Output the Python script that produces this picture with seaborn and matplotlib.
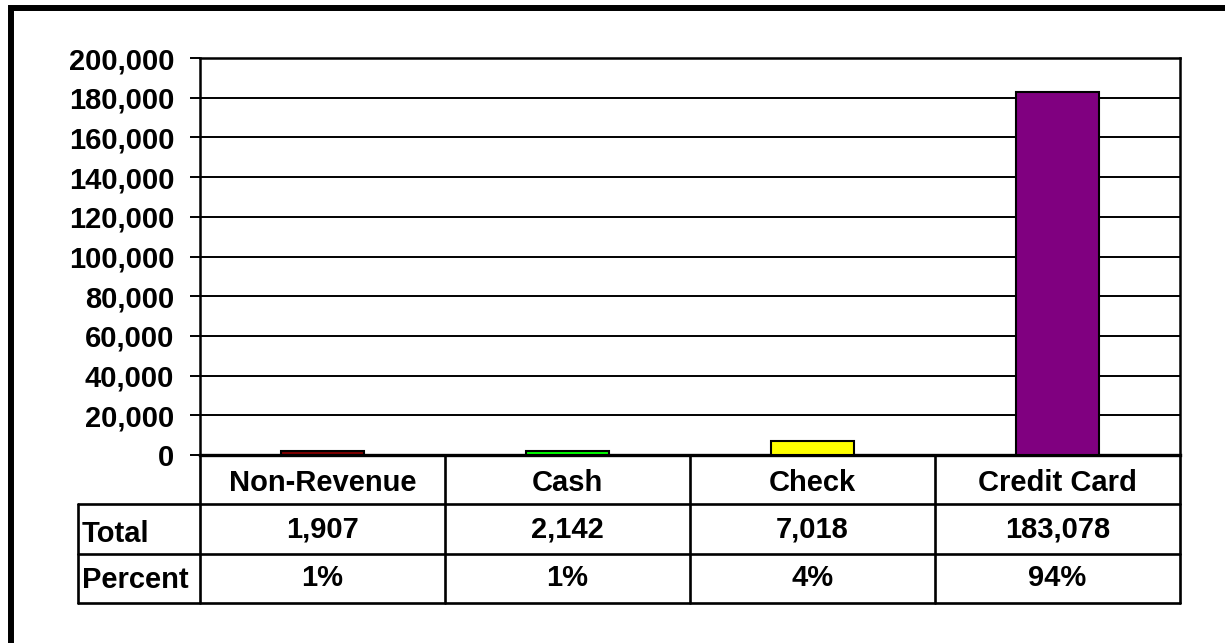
import matplotlib
matplotlib.use("Agg")
import matplotlib.pyplot as plt
from matplotlib.patches import Rectangle
from matplotlib.ticker import FuncFormatter, MultipleLocator
import seaborn as sns

categories = ["Non-Revenue", "Cash", "Check", "Credit Card"]
values = [1907, 2142, 7018, 183078]
percent_labels = ["1%", "1%", "4%", "94%"]
row_labels = ["Total", "Percent"]
bar_colors = ["#800000", "#00FF00", "#FFFF00", "#800080"]

sns.set_theme(style="white")
plt.rcParams["font.family"] = ["Liberation Sans", "DejaVu Sans"]
plt.rcParams["font.weight"] = "bold"
plt.rcParams["text.color"] = "black"
plt.rcParams["ytick.color"] = "black"
plt.rcParams["ytick.labelcolor"] = "black"

W, H = 1225, 643
fig = plt.figure(figsize=(W / 100, H / 100), dpi=100)
fig.patch.set_facecolor("white")

def fx(px):
    return px / W

def fy(py):
    return 1 - py / H

# outer frame (only top-left visible)
fig.patches.append(Rectangle((fx(11), fy(700)), fx(1300), fy(8) - fy(700),
                             transform=fig.transFigure, fill=False,
                             edgecolor="black", linewidth=4.3, zorder=0))

L, R, T, B = 200, 1180, 58, 455
ax = fig.add_axes([fx(L), fy(B), fx(R) - fx(L), fy(T) - fy(B)])
sns.barplot(x=categories, y=values, hue=categories, palette=bar_colors,
            saturation=1, width=0.335, edgecolor="black", linewidth=1.5,
            legend=False, ax=ax, zorder=3)
ax.set_xlim(-0.5, 3.5)
ax.set_ylim(0, 200000)
ax.yaxis.set_major_locator(MultipleLocator(20000))
ax.yaxis.set_major_formatter(FuncFormatter(lambda v, p: f"{int(v):,}"))
ax.grid(axis="y", color="black", linewidth=1.4, zorder=0)
ax.set_xticks([])
ax.set_xlabel("")
ax.set_ylabel("")
for s in ax.spines.values():
    s.set_visible(True)
    s.set_color("black")
    s.set_linewidth(1.8)
ax.spines["bottom"].set_linewidth(2.4)
ax.tick_params(axis="y", direction="out", length=7.5, width=1.4, color="black",
               labelcolor="black", left=True, labelsize=21, pad=11)
for lab in ax.get_yticklabels():
    lab.set_fontweight("bold")

# data table below the plot
TL, TB = 78, 603
unit = (R - L) / 4.0
tax = fig.add_axes([fx(TL), fy(TB), fx(R) - fx(TL), fy(B) - fy(TB)])
tax.set_xlim(-0.5 - (L - TL) / unit, 3.5)
tax.set_ylim(3, 0)
tax.axis("off")
x0 = -0.5 - (L - TL) / unit
lw = 1.9
tax.plot([-0.5, 3.5], [0, 0], color="black", lw=lw, clip_on=False)
for yy in (1, 2, 3):
    tax.plot([x0, 3.5], [yy, yy], color="black", lw=lw, clip_on=False)
tax.plot([x0, x0], [1, 3], color="black", lw=lw, clip_on=False)
for xx in (-0.5, 0.5, 1.5, 2.5, 3.5):
    tax.plot([xx, xx], [0, 3], color="black", lw=lw, clip_on=False)

fs = 21
for i, (c, v, p) in enumerate(zip(categories, values, percent_labels)):
    tax.text(i, 0.56, c, ha="center", va="center", fontsize=fs, fontweight="bold", color="black")
    tax.text(i, 1.51, f"{v:,}", ha="center", va="center", fontsize=fs, fontweight="bold", color="black")
    tax.text(i, 2.5, p, ha="center", va="center", fontsize=fs, fontweight="bold", color="black")
tax.text(x0 + 0.015, 1.6, row_labels[0], ha="left", va="center", fontsize=fs,
         fontweight="bold", color="black")
tax.text(x0 + 0.015, 2.54, row_labels[1], ha="left", va="center", fontsize=fs,
         fontweight="bold", color="black")

fig.savefig("out.png", dpi=100, facecolor="white")
